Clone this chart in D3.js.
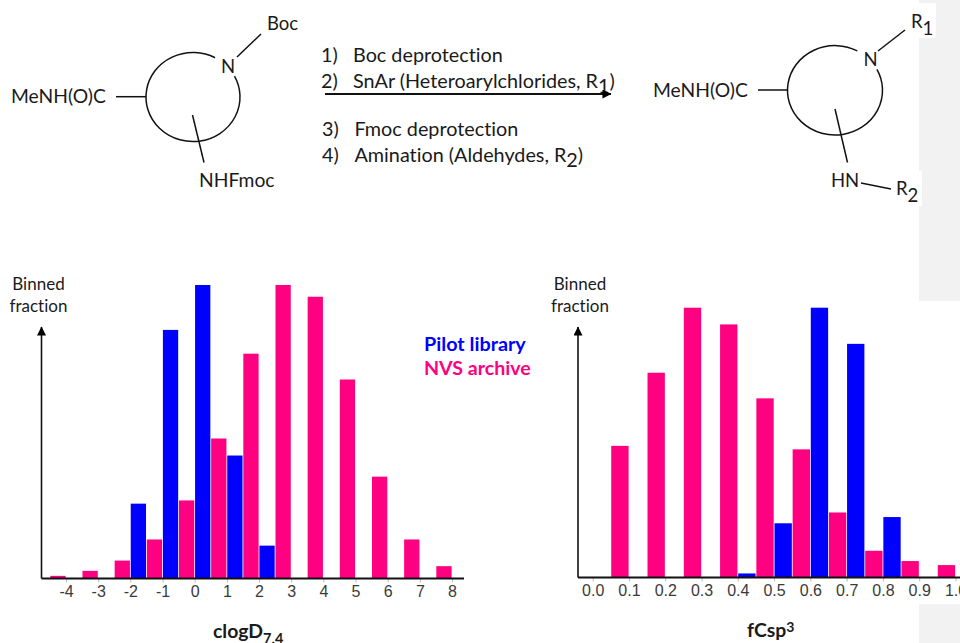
<!DOCTYPE html>
<html><head><meta charset="utf-8">
<style>html,body{margin:0;padding:0;background:#fff}svg{display:block}
.chem{font-family:Lato,"Open Sans",sans-serif;font-size:18.5px;fill:#1a1a1a;font-variant-ligatures:none}
.tick text{font-family:"Liberation Sans",Arial,sans-serif;font-size:16px;fill:#3a3a3a}
</style>
<script src="https://cdn.jsdelivr.net/npm/d3@7"></script></head><body>
<svg id="c" width="960" height="643" viewBox="0 0 960 643"></svg>
<script>
const clogdTicks=[-4,-3,-2,-1,0,1,2,3,4,5,6,7,8];
const clogdNvs=[0.9,2.6,6.1,13.3,26.6,47.7,76.6,100,96,67.8,34.7,13.3,4.2];
const clogdPilotBins=[-2,-1,0,1,2];
const clogdPilot=[25.5,84.7,100,41.9,11.2];
const fcspTicks=[0,0.1,0.2,0.3,0.4,0.5,0.6,0.7,0.8,0.9,1.0];
const fcspNvsBins=[0.1,0.2,0.3,0.4,0.5,0.6,0.7,0.8,0.9,1.0];
const fcspNvs=[48.8,75.9,100,93.8,66.4,47.5,24.1,9.9,6.1,4.6];
const fcspPilotBins=[0.4,0.5,0.6,0.7,0.8];
const fcspPilot=[1.5,20.1,100,86.6,22.4];
const PINK="#FF0080",BLUE="#0000FF";

const svg=d3.select("#c");
[[919,0,41,301],[919,604,41,39]].forEach(r=>svg.append("rect").attr("x",r[0]).attr("y",r[1]).attr("width",r[2]).attr("height",r[3]).attr("fill","#f2f2f2"));
[[919,3,17,35],[919,171,3,35]].forEach(r=>svg.append("rect").attr("x",r[0]).attr("y",r[1]).attr("width",r[2]).attr("height",r[3]).attr("fill","#fff"));

const defs=svg.append("defs");
defs.append("marker").attr("id","ah").attr("viewBox","0 0 10 10").attr("refX",9.5).attr("refY",5)
 .attr("markerUnits","userSpaceOnUse").attr("markerWidth",12).attr("markerHeight",9).attr("orient","auto")
 .append("path").attr("d","M0,0L10,5L0,10Z").attr("fill","#000");

function line(x1,y1,x2,y2,w=1.5,m){const l=svg.append("line").attr("x1",x1).attr("y1",y1).attr("x2",x2).attr("y2",y2).attr("stroke","#111").attr("stroke-width",w);if(m)l.attr("marker-end","url(#ah)");return l;}
function text(x,y,parts,o={}){
  const t=svg.append("text").attr("class","chem").attr("x",x).attr("y",y);
  if(o.size)t.style("font-size",o.size+"px");
  if(o.weight)t.style("font-weight",o.weight);
  if(o.fill)t.style("fill",o.fill);
  if(o.anchor)t.attr("text-anchor",o.anchor);
  (Array.isArray(parts)?parts:[parts]).forEach(p=>{
    if(typeof p==="string"){t.append("tspan").text(p);}
    else{
      const s=t.append("tspan").attr("dy",p.dy).text(p.t);
      if(p.size)s.style("font-size",p.size+"px");
      if(p.after!==undefined)t.append("tspan").attr("dy",-p.dy).text(p.after);}
  });
  return t;
}
function ring(cx,cy,rx,ry,a0,a1){
  const p=a=>[cx+rx*Math.cos(a*Math.PI/180),cy+ry*Math.sin(a*Math.PI/180)];
  const s=p(a0),e=p(a1);
  svg.append("path").attr("d",`M${s[0]},${s[1]}A${rx},${ry} 0 1 1 ${e[0]},${e[1]}`).attr("fill","none").attr("stroke","#111").attr("stroke-width",1.5);
}
const RX=19.8;
// left structure
ring(193,97,47,44.5,-28,-62);
text(228,72.5,"N",{anchor:"middle"});
line(237,57,261,34);
text(267,30,"Boc");
text(11,103,"MeNH(O)C",{size:19.3});
line(116,96.7,146,96.7);
line(192.5,115,204,162.5);
text(199,187,"NHFmoc",{size:19.3});

// reaction text
text(321,62,"1)",{size:RX});text(353,62,"Boc deprotection",{size:RX});
text(321,88,"2)",{size:RX});text(353,88,["SnAr (Heteroarylchlorides, R",{t:"1",dy:5,after:")"}],{size:RX});
text(322,136,"3)",{size:RX});text(354.5,136,"Fmoc deprotection",{size:RX});
text(322,162,"4)",{size:RX});text(354.5,162,["Amination (Aldehydes, R",{t:"2",dy:5,after:")"}],{size:RX});
line(325,94,611,94,1.8,true);

// right structure
ring(835,90.3,47.5,44.7,-28,-62);
text(870.5,66,"N",{anchor:"middle"});
line(878,51,905,30);
text(911,28,["R",{t:"1",dy:7}]);
text(653,97,"MeNH(O)C",{size:19.3});
line(758,90,787,90);
line(835,109,847.5,162.5);
text(831,187,"HN");
line(861,183,891,189);
text(896,195,["R",{t:"2",dy:7}]);

function chart(o){
  const x=d3.scaleLinear().domain(o.domain).range(o.xr);
  const y=d3.scaleLinear().domain([0,100]).range([o.y0,o.yTop]);
  const hw=(x(o.bin)-x(0))/2;
  const g=svg.append("g");
  const draw=(bins,vals,color,off)=>g.selectAll(null).data(bins.map((b,i)=>({b,v:vals[i]}))).enter().append("rect")
    .attr("x",d=>x(d.b)+off*hw+0.4).attr("width",hw-0.8)
    .attr("y",d=>y(d.v)).attr("height",d=>o.y0-y(d.v))
    .attr("fill",color);
  draw(o.nvsBins,o.nvs,PINK,-1);
  draw(o.pilotBins,o.pilot,BLUE,0);
  const ax=d3.axisBottom(x).tickValues(o.ticks).tickFormat(o.fmt).tickSize(4).tickPadding(3);
  const a=svg.append("g").attr("transform",`translate(0,${o.y0})`).call(ax);
  a.select(".domain").remove();
  a.selectAll(".tick line").attr("stroke","#bbb");
  line(o.ax0,o.y0,o.ax1,o.y0,2);
  line(o.ax0,o.y0,o.ax0,o.arrowTop,1.6,true);
  text(o.lx,290,"Binned",{anchor:"middle",size:17});
  text(o.lx,311.5,"fraction",{anchor:"middle",size:17});
}
chart({domain:[-4,8],xr:[66,452],bin:1,yTop:285,y0:578.5,ticks:clogdTicks,fmt:d=>String(d),
  nvsBins:clogdTicks,nvs:clogdNvs,pilotBins:clogdPilotBins,pilot:clogdPilot,ax0:41.5,ax1:464,arrowTop:327,lx:38.5});
chart({domain:[0,1],xr:[592.7,955.5],bin:0.1,yTop:307.7,y0:577.5,ticks:fcspTicks,fmt:d3.format(".1f"),
  nvsBins:fcspNvsBins,nvs:fcspNvs,pilotBins:fcspPilotBins,pilot:fcspPilot,ax0:578,ax1:960,arrowTop:327,lx:580});

text(424,351,"Pilot library",{size:19.8,weight:700,fill:BLUE});
text(424,375,"NVS archive",{size:19.6,weight:700,fill:PINK});
text(213,638,["clogD",{t:"7.4",dy:6,size:14.5}],{size:19.4,weight:700});
text(747,637,["fCsp",{t:"3",dy:-5,size:14}],{size:19.4,weight:700});
</script></body></html>
